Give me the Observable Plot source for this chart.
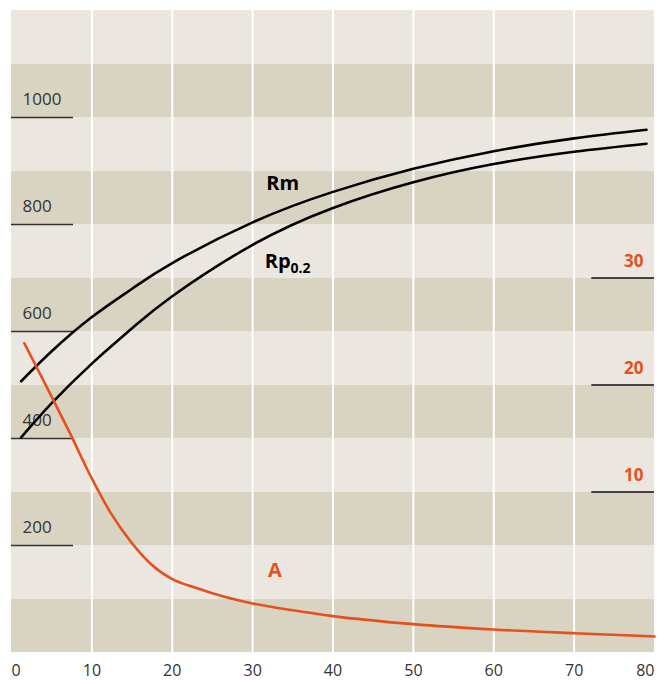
<!DOCTYPE html>
<html><head><meta charset="utf-8">
<script src="https://cdn.jsdelivr.net/npm/d3@7"></script>
<script src="https://cdn.jsdelivr.net/npm/@observablehq/plot@0.6"></script>
<style>body{margin:0;background:#fff;}</style>
</head><body><div id="chart"></div>
<script>
// Tick values
const xTicks = [0, 10, 20, 30, 40, 50, 60, 70, 80];
const yTicks = [200, 400, 600, 800, 1000];
const aTicks = [10, 20, 30];

// Series: Rm (left scale)
const rmX = [1.2, 5, 10, 15, 20, 30, 40, 50, 60, 70, 79];
const rmY = [507, 563, 627, 680, 728, 804, 861, 904, 937, 961, 977];
// Series: Rp0.2 (left scale)
const rpX = [1.2, 5, 10, 15, 20, 30, 40, 50, 60, 70, 79];
const rpY = [402, 466, 540, 606, 666, 762, 831, 879, 913, 936, 951];
// Series: A (right scale, %)
const aX = [1.6, 4.8, 7.3, 9.9, 12.3, 14.8, 17.3, 19.9, 23.1, 26.5, 30, 35, 40, 50, 60, 70, 80];
const aY = [23.9, 19.2, 15.45, 11.4, 8.1, 5.4, 3.3, 1.9, 1.0, 0.2, -0.42, -1.05, -1.6, -2.35, -2.85, -3.2, -3.5];

// Curve labels
const labelNames = ["Rm", "Rp", "A"];
const labelSubs = ["", "0.2", ""];
const labelX = [31.7, 31.5, 31.9];
const labelY = [876, 731, 153];

const LIGHT = "#ebe7e0", DARK = "#d9d4c2", ORANGE = "#e6501c", INK = "#333";
const aToLeft = a => 100 + 20 * a; // right axis -> left axis units

const rm = rmX.map((x, i) => ({x, y: rmY[i]}));
const rp = rpX.map((x, i) => ({x, y: rpY[i]}));
const aa = aX.map((x, i) => ({x, y: aToLeft(aY[i])}));
const bands = d3.range(0, 1200, 100);
const labels = labelNames.map((n, i) => ({n, sub: labelSubs[i], x: labelX[i], y: labelY[i]}));

const plot = Plot.plot({
  width: 668, height: 680,
  marginLeft: 11, marginRight: 14, marginTop: 10, marginBottom: 28,
  x: {domain: [0, 80], axis: null},
  y: {domain: [0, 1200], axis: null},
  color: {type: "identity"},
  style: {fontFamily: "'Open Sans', sans-serif", background: "white"},
  marks: [
    Plot.rect(bands, {x1: 0, x2: 80, y1: d => d, y2: d => d + 100, fill: d => (d / 100) % 2 === 0 ? DARK : LIGHT}),
    Plot.ruleX(xTicks.filter(d => d > 0 && d < 80), {stroke: "white", strokeWidth: 2}),
    // left ticks
    Plot.ruleY(yTicks, {x1: 0, x2: 7.72, stroke: INK, strokeWidth: 1.3}),
    Plot.text(yTicks, {x: 0, y: d => d, dx: 11, dy: -18, text: d => String(d), textAnchor: "start", fontSize: 17, fill: INK}),
    // right ticks
    Plot.ruleY(aTicks, {y: d => aToLeft(d), x1: 72.2, x2: 80, stroke: "#111", strokeWidth: 1.3}),
    Plot.text(aTicks, {x: 80, y: d => aToLeft(d), dx: -11, dy: -16, text: d => String(d), textAnchor: "end", fontSize: 17, fontWeight: "bold", fill: ORANGE}),
    // bottom labels
    Plot.text(xTicks.slice(0, 1), {x: d => d, y: 0, dy: 18, text: d => String(d), textAnchor: "start", fontSize: 16, fill: INK}),
    Plot.text(xTicks.slice(1, -1), {x: d => d, y: 0, dy: 18, text: d => String(d), textAnchor: "middle", fontSize: 16, fill: INK}),
    Plot.text(xTicks.slice(-1), {x: d => d, y: 0, dy: 18, text: d => String(d), textAnchor: "end", fontSize: 16, fill: INK}),
    // curves
    Plot.line(rm, {x: "x", y: "y", stroke: "black", strokeWidth: 2.6, curve: "natural"}),
    Plot.line(rp, {x: "x", y: "y", stroke: "black", strokeWidth: 2.6, curve: "natural"}),
    Plot.line(aa, {x: "x", y: "y", stroke: ORANGE, strokeWidth: 2.6, curve: "monotone-x"}),
    // curve labels
    Plot.text(labels, {x: "x", y: "y", text: "n", textAnchor: "start", fontSize: 20, fontWeight: "bold",
      fill: d => d.n === "A" ? ORANGE : "black"})
  ]
});

// add subscript to Rp label
d3.select(plot).selectAll("text").filter(function() { return this.textContent === "Rp"; })
  .each(function() {
    d3.select(this).append("tspan").attr("dy", "5.5").attr("font-size", 14).text(labelSubs[1]);
  });

document.getElementById("chart").appendChild(plot);
</script>
</body></html>
